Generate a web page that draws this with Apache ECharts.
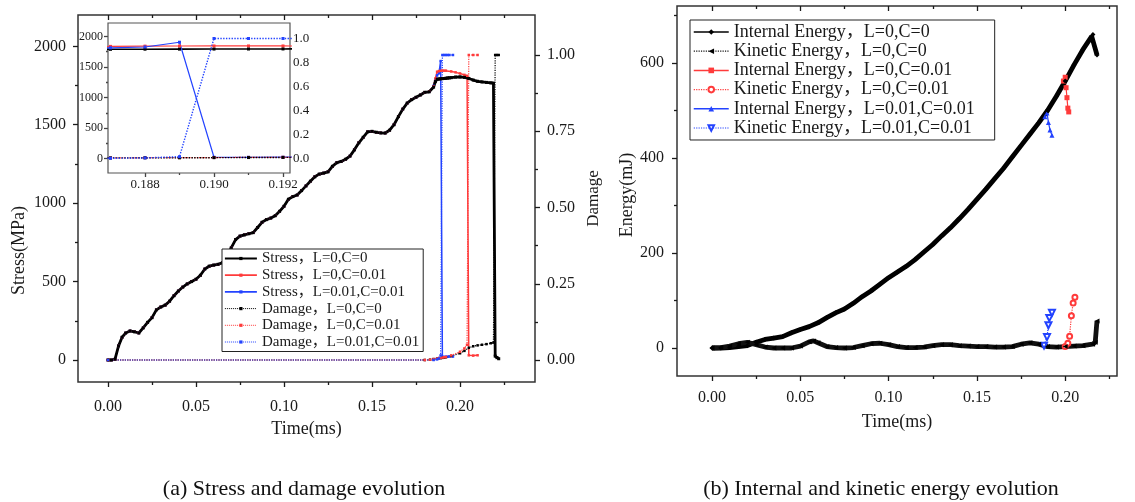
<!DOCTYPE html>
<html>
<head>
<meta charset="utf-8">
<script src="https://cdn.jsdelivr.net/npm/echarts@6/dist/echarts.min.js"></script>
<style>
  html, body { margin: 0; padding: 0; background: #fff; }
  #chart { width: 1135px; height: 502px; }
</style>
</head>
<body>
<div id="chart"></div>
<script>
// ---- (a) stress (MPa) and damage vs time (ms) ----
const stressL0C0 = [
  [0, 0], [0.002, 0], [0.004, 5], [0.006, 90], [0.008, 145], [0.010, 172],
  [0.0125, 185], [0.015, 180], [0.0175, 172], [0.020, 205], [0.0225, 240], [0.025, 270],
  [0.0275, 320], [0.030, 338], [0.0325, 350], [0.035, 375], [0.0375, 410], [0.040, 440],
  [0.0425, 465], [0.045, 485], [0.0475, 500], [0.050, 515], [0.0525, 540], [0.055, 580],
  [0.0575, 598], [0.060, 605], [0.0625, 610], [0.065, 620], [0.0675, 648], [0.070, 715],
  [0.0725, 768], [0.075, 790], [0.0775, 798], [0.080, 805], [0.0825, 812], [0.085, 845],
  [0.0875, 878], [0.090, 895], [0.0925, 905], [0.095, 920], [0.0975, 948], [0.100, 980],
  [0.1025, 1025], [0.105, 1042], [0.1075, 1052], [0.110, 1080], [0.1125, 1110], [0.115, 1140],
  [0.1175, 1168], [0.120, 1185], [0.1225, 1192], [0.125, 1200], [0.1275, 1235], [0.130, 1258],
  [0.1325, 1266], [0.135, 1280], [0.1375, 1300], [0.140, 1340], [0.1425, 1385], [0.145, 1420],
  [0.1475, 1455], [0.150, 1458], [0.1525, 1452], [0.155, 1448], [0.1575, 1447], [0.160, 1465],
  [0.1625, 1500], [0.165, 1552], [0.1675, 1600], [0.170, 1638], [0.1725, 1660], [0.175, 1675],
  [0.1775, 1690], [0.180, 1707], [0.1825, 1710], [0.185, 1740], [0.186, 1775], [0.187, 1790],
  [0.188, 1792], [0.189, 1793], [0.190, 1794], [0.191, 1795], [0.192, 1796], [0.193, 1798],
  [0.194, 1799], [0.195, 1800], [0.1975, 1804], [0.200, 1805], [0.2025, 1802], [0.205, 1795],
  [0.2075, 1785], [0.210, 1777], [0.2125, 1773], [0.215, 1770], [0.2175, 1767], [0.219, 1765],
  [0.220, 25], [0.221, 15], [0.222, 8]
];
// the coupled runs follow L=0,C=0 up to 0.18 ms, then these tails
const stressL0C001Tail = [
  [0.1825, 1712], [0.185, 1745], [0.186, 1795], [0.187, 1838], [0.188, 1842], [0.189, 1844],
  [0.190, 1845], [0.191, 1845], [0.192, 1845], [0.195, 1840], [0.1975, 1834], [0.200, 1827],
  [0.2025, 1818], [0.204, 1812], [0.205, 30], [0.2075, 28], [0.210, 30]
];
const stressL001C001Tail = [
  [0.1825, 1710], [0.185, 1748], [0.186, 1790], [0.187, 1815], [0.188, 1828], [0.189, 1906],
  [0.190, 20], [0.191, 20], [0.192, 21], [0.193, 21], [0.194, 22], [0.196, 22]
];
const damageL0C0 = [
  [0, 0], [0.180, 0], [0.183, 0.001], [0.185, 0.003], [0.187, 0.005], [0.188, 0.006],
  [0.189, 0.006], [0.190, 0.007], [0.191, 0.008], [0.192, 0.009], [0.195, 0.013], [0.200, 0.022],
  [0.2025, 0.030], [0.205, 0.040], [0.2075, 0.045], [0.210, 0.048], [0.2125, 0.050], [0.215, 0.052],
  [0.2175, 0.055], [0.219, 0.057], [0.220, 1], [0.221, 1], [0.222, 1]
];
const damageL0C001 = [
  [0, 0], [0.180, 0], [0.183, 0.001], [0.185, 0.003], [0.187, 0.005], [0.188, 0.006],
  [0.189, 0.007], [0.190, 0.008], [0.191, 0.009], [0.192, 0.010], [0.195, 0.015], [0.200, 0.027],
  [0.2025, 0.038], [0.204, 0.050], [0.205, 1], [0.2075, 1], [0.210, 1]
];
const damageL001C001 = [
  [0, 0], [0.185, 0], [0.187, 0.002], [0.188, 0.005], [0.189, 0.015], [0.190, 1],
  [0.191, 1], [0.192, 1], [0.193, 1], [0.194, 1], [0.196, 1]
];

// ---- (b) energies (mJ) vs time (ms) ----
const internalL0C0 = [
  [0, 0], [0.005, 0], [0.010, 1], [0.015, 3], [0.020, 5], [0.025, 12], [0.030, 18], [0.035, 21],
  [0.040, 24], [0.045, 32], [0.050, 39], [0.055, 45], [0.060, 53], [0.065, 64], [0.070, 74],
  [0.075, 82], [0.080, 94], [0.085, 108], [0.090, 120], [0.095, 134], [0.100, 148], [0.105, 160],
  [0.110, 172], [0.115, 186], [0.120, 202], [0.125, 218], [0.130, 236], [0.135, 253], [0.140, 272],
  [0.145, 292], [0.150, 313], [0.155, 334], [0.160, 356], [0.165, 378], [0.170, 402], [0.175, 426],
  [0.180, 450], [0.185, 474], [0.190, 500], [0.195, 530], [0.200, 562], [0.205, 596], [0.210, 628],
  [0.215, 656], [0.2157, 660], [0.218, 617]
];
const kineticL0C0 = [
  [0, 0], [0.005, 1], [0.010, 4], [0.015, 9], [0.020, 12], [0.025, 7], [0.030, 2], [0.035, 0],
  [0.040, 0], [0.045, 0], [0.050, 4], [0.055, 13], [0.0575, 15], [0.060, 11], [0.065, 3], [0.070, 1],
  [0.075, 0], [0.080, 1], [0.085, 5], [0.090, 9], [0.095, 10], [0.100, 7], [0.105, 3], [0.110, 1],
  [0.115, 1], [0.120, 2], [0.125, 5], [0.130, 7], [0.135, 7], [0.140, 5], [0.145, 4], [0.150, 3],
  [0.155, 3], [0.160, 2], [0.165, 2], [0.170, 3], [0.175, 8], [0.180, 11], [0.185, 8], [0.190, 3],
  [0.195, 2], [0.200, 3], [0.205, 4], [0.210, 5], [0.2155, 8], [0.217, 12], [0.218, 57]
];
const internalL0C001Tail = [
  [0.199, 562], [0.200, 570], [0.2005, 548], [0.201, 527], [0.2015, 505], [0.202, 497]
];
const kineticL0C001Tail = [
  [0.200, 3], [0.2015, 10], [0.2025, 25], [0.2035, 68], [0.2045, 95], [0.2055, 107]
];
const internalL001C001Tail = [
  [0.1885, 487], [0.1897, 495], [0.1905, 475], [0.1914, 459], [0.1925, 448]
];
const kineticL001C001Tail = [
  [0.188, 5], [0.1897, 23], [0.1905, 48], [0.191, 63], [0.1925, 74]
];

// ---- ticks ----
const timeTicks = [0, 0.05, 0.10, 0.15, 0.20];
const timeMinor = [0.025, 0.075, 0.125, 0.175, 0.225];
const stressTicks = [0, 500, 1000, 1500, 2000];
const stressMinor = [250, 750, 1250, 1750];
const damageTicks = [0, 0.25, 0.5, 0.75, 1];
const damageMinor = [0.125, 0.375, 0.625, 0.875];
const insetTimeTicks = [0.188, 0.190, 0.192];
const insetTimeMinor = [0.189, 0.191];
const insetDamageTicks = [0, 0.2, 0.4, 0.6, 0.8, 1];
const insetDamageMinor = [-0.1, 0.1, 0.3, 0.5, 0.7, 0.9, 1.1];
const energyTicks = [0, 200, 400, 600];
const energyMinor = [100, 300, 500, 700];

const legendA = ['Stress，L=0,C=0', 'Stress，L=0,C=0.01', 'Stress，L=0.01,C=0.01',
  'Damage，L=0,C=0', 'Damage，L=0,C=0.01', 'Damage，L=0.01,C=0.01'];
const legendB = ['Internal Energy，L=0,C=0', 'Kinetic Energy，L=0,C=0',
  'Internal Energy，L=0,C=0.01', 'Kinetic Energy，L=0,C=0.01',
  'Internal Energy，L=0.01,C=0.01', 'Kinetic Energy，L=0.01,C=0.01'];

// ---- layout (pixels) ----
const SERIF = '"Liberation Serif", "Noto Sans CJK SC", serif';
const INK = '#1a1a1a';
const RED = '#ff3b3b';
const BLUE = '#2343ff';

const L = { left: 78, right: 535, top: 15, bottom: 382, x0: 108, pxMs: 1760, y0: 360, pxS: 0.15684, pxD: 305 };
const I = { left: 108, right: 290, top: 23, bottom: 173, x0: 145, t0: 0.188, pxMs: 34500, y0: 158.5, pxS: 0.061, pxD: 120 };
const R = { left: 677, right: 1117, top: 6, bottom: 376, x0: 712, pxMs: 1766, y0: 348, pxE: 0.475 };

function upTo(points, t) {
  return points.filter((p) => p[0] <= t);
}

function tailSymbol(from, size) {
  return (v) => (v[0] >= from ? size : 0);
}

// one axis of a frame: only ticks (and labels) at the given values
function tickAxis(base, values, o) {
  const color = o.color || INK;
  return Object.assign({
    type: 'value',
    axisLine: { show: false, onZero: false },
    axisTick: { show: true, inside: !!o.inside, length: o.len || 5, customValues: values,
      lineStyle: { color, width: 1.3 } },
    minorTick: { show: false },
    splitLine: { show: false },
    axisLabel: o.formatter
      ? { show: true, customValues: values, margin: o.margin, fontFamily: SERIF,
          fontSize: o.fontSize || 16, color: INK, formatter: o.formatter }
      : { show: false },
    nameLocation: 'middle',
    nameTextStyle: { fontFamily: SERIF, fontSize: 18, color: INK },
  }, base);
}

function line(name, data, xi, yi, color, o) {
  return Object.assign({
    type: 'line',
    name,
    data,
    xAxisIndex: xi,
    yAxisIndex: yi,
    symbol: 'rect',
    symbolSize: 2.5,
    showSymbol: true,
    lineStyle: { color, width: 1.5, type: 'solid' },
    itemStyle: { color },
    silent: true,
    animation: false,
  }, o);
}

const stressRed = upTo(stressL0C0, 0.18).concat(stressL0C001Tail);
const stressBlue = upTo(stressL0C0, 0.18).concat(stressL001C001Tail);
const internalRed = upTo(internalL0C0, 0.195).concat(internalL0C001Tail);
const kineticRed = upTo(kineticL0C0, 0.195).concat(kineticL0C001Tail);
const internalBlue = upTo(internalL0C0, 0.185).concat(internalL001C001Tail);
const kineticBlue = upTo(kineticL0C0, 0.185).concat(kineticL001C001Tail);

const fmt = (d) => (v) => Number(v).toFixed(d);

const lx = [(L.left - L.x0) / L.pxMs, (L.right - L.x0) / L.pxMs];
const lS = [(L.y0 - L.bottom) / L.pxS, (L.y0 - L.top) / L.pxS];
const lD = [(L.y0 - L.bottom) / L.pxD, (L.y0 - L.top) / L.pxD];
const ix = [I.t0 + (I.left - I.x0) / I.pxMs, I.t0 + (I.right - I.x0) / I.pxMs];
const iS = [(I.y0 - I.bottom) / I.pxS, (I.y0 - I.top) / I.pxS];
const iD = [(I.y0 - I.bottom) / I.pxD, (I.y0 - I.top) / I.pxD];
const rx = [(R.left - R.x0) / R.pxMs, (R.right - R.x0) / R.pxMs];
const rE = [(R.y0 - R.bottom) / R.pxE, (R.y0 - R.top) / R.pxE];

const option = {
  animation: false,
  backgroundColor: '#fff',
  grid: [
    { left: L.left, top: L.top, width: L.right - L.left, height: L.bottom - L.top, outerBoundsMode: 'none',
      show: true, borderColor: '#333', borderWidth: 1.5 },
    { left: I.left, top: I.top, width: I.right - I.left, height: I.bottom - I.top, outerBoundsMode: 'none',
      show: true, backgroundColor: '#fff', borderColor: '#555', borderWidth: 1.2, z: 5 },
    { left: R.left, top: R.top, width: R.right - R.left, height: R.bottom - R.top, outerBoundsMode: 'none',
      show: true, borderColor: '#333', borderWidth: 1.5 },
  ],
  xAxis: [
    tickAxis({ gridIndex: 0, position: 'bottom', min: lx[0], max: lx[1], name: 'Time(ms)', nameGap: 37 },
      timeTicks, { margin: 17, formatter: fmt(2) }),
    tickAxis({ gridIndex: 0, position: 'bottom', min: lx[0], max: lx[1] }, timeMinor, { len: 3 }),
    tickAxis({ gridIndex: 0, position: 'top', min: lx[0], max: lx[1] }, timeTicks, { inside: true }),
    tickAxis({ gridIndex: 0, position: 'top', min: lx[0], max: lx[1] }, timeMinor, { inside: true, len: 3 }),
    tickAxis({ gridIndex: 1, position: 'bottom', min: ix[0], max: ix[1] },
      insetTimeTicks, { len: 4, margin: 5, fontSize: 13, formatter: fmt(3), color: '#444' }),
    tickAxis({ gridIndex: 1, position: 'bottom', min: ix[0], max: ix[1] }, insetTimeMinor, { len: 2, color: '#444' }),
    tickAxis({ gridIndex: 2, position: 'bottom', min: rx[0], max: rx[1], name: 'Time(ms)', nameGap: 37 },
      timeTicks, { margin: 14, formatter: fmt(2) }),
    tickAxis({ gridIndex: 2, position: 'bottom', min: rx[0], max: rx[1] }, timeMinor, { len: 3 }),
    tickAxis({ gridIndex: 2, position: 'top', min: rx[0], max: rx[1] }, timeTicks, { inside: true }),
    tickAxis({ gridIndex: 2, position: 'top', min: rx[0], max: rx[1] }, timeMinor, { inside: true, len: 3 }),
  ],
  yAxis: [
    tickAxis({ gridIndex: 0, position: 'left', min: lS[0], max: lS[1], name: 'Stress(MPa)', nameGap: 50,
      // the title sits lower than the middle of the frame
      nameTextStyle: { fontFamily: SERIF, fontSize: 18, color: INK, padding: [0, 104, 0, 0] } },
      stressTicks, { margin: 12, formatter: fmt(0) }),
    tickAxis({ gridIndex: 0, position: 'left', min: lS[0], max: lS[1] }, stressMinor, { len: 3 }),
    tickAxis({ gridIndex: 0, position: 'right', min: lD[0], max: lD[1], name: 'Damage', nameGap: 50,
      nameTextStyle: { fontFamily: SERIF, fontSize: 17, color: INK } },
      damageTicks, { margin: 12, formatter: fmt(2) }),
    tickAxis({ gridIndex: 0, position: 'right', min: lD[0], max: lD[1] }, damageMinor, { len: 3 }),
    tickAxis({ gridIndex: 1, position: 'left', min: iS[0], max: iS[1] },
      stressTicks, { len: 4, margin: 5, fontSize: 12, formatter: fmt(0), color: '#444' }),
    tickAxis({ gridIndex: 1, position: 'left', min: iS[0], max: iS[1] }, stressMinor, { len: 2, color: '#444' }),
    tickAxis({ gridIndex: 1, position: 'right', min: iD[0], max: iD[1] },
      insetDamageTicks, { len: 4, inside: true, margin: 3, fontSize: 13, formatter: fmt(1), color: '#444' }),
    tickAxis({ gridIndex: 1, position: 'right', min: iD[0], max: iD[1] }, insetDamageMinor,
      { len: 2, inside: true, color: '#444' }),
    tickAxis({ gridIndex: 2, position: 'left', min: rE[0], max: rE[1], name: 'Energy(mJ)', nameGap: 40,
      nameTextStyle: { fontFamily: SERIF, fontSize: 18, color: INK, padding: [0, 8, 0, 0] } },
      energyTicks, { margin: 13, formatter: fmt(0) }),
    tickAxis({ gridIndex: 2, position: 'left', min: rE[0], max: rE[1] }, energyMinor, { len: 3 }),
  ],
  legend: [
    {
      orient: 'vertical', left: 222, top: 249, padding: [2, 4, 2, 2],
      itemWidth: 32, itemHeight: 4, itemGap: 1.7,
      borderColor: '#222', borderWidth: 1, backgroundColor: '#fff',
      selectedMode: false,
      textStyle: { fontFamily: SERIF, fontSize: 15, color: INK },
      data: [
        { name: legendA[0], lineStyle: { width: 1.8 } },
        { name: legendA[1], lineStyle: { width: 1.8 } },
        { name: legendA[2], lineStyle: { width: 1.8 } },
        { name: legendA[3], lineStyle: { width: 1 } },
        { name: legendA[4], lineStyle: { width: 1 } },
        { name: legendA[5], lineStyle: { width: 1 } },
      ],
    },
    {
      orient: 'vertical', left: 690, top: 20, padding: [3, 20, 3, 3],
      itemWidth: 35, itemHeight: 7, itemGap: 1.2,
      borderColor: '#222', borderWidth: 1, backgroundColor: '#fff',
      selectedMode: false,
      textStyle: { fontFamily: SERIF, fontSize: 18, color: INK },
      data: [
        { name: legendB[0], lineStyle: { width: 1.5 } },
        { name: legendB[1], lineStyle: { width: 1.2, type: 'dotted' } },
        { name: legendB[2], lineStyle: { width: 1.5 } },
        { name: legendB[3], lineStyle: { width: 1.2 } },
        { name: legendB[4], lineStyle: { width: 1.5 } },
        { name: legendB[5], lineStyle: { width: 1.2 } },
      ],
    },
  ],
  series: [
    // (a) main plot
    line(legendA[2], stressBlue, 0, 0, BLUE, {}),
    line(legendA[1], stressRed, 0, 0, RED, {}),
    line(legendA[0], stressL0C0, 0, 0, '#000', { lineStyle: { color: '#000', width: 2.8 }, symbolSize: 3 }),
    line(legendA[3], damageL0C0, 0, 2, '#000', { lineStyle: { color: '#000', width: 1.2, type: 'dotted' } }),
    line(legendA[4], damageL0C001, 0, 2, RED, { lineStyle: { color: RED, width: 1.2, type: 'dotted' } }),
    line(legendA[5], damageL001C001, 0, 2, BLUE, { lineStyle: { color: BLUE, width: 1.2, type: 'dotted' } }),
    // (a) inset
    line(legendA[1], stressRed, 4, 4, RED, { z: 6, symbolSize: 3, lineStyle: { color: RED, width: 1.2 } }),
    line(legendA[0], stressL0C0, 4, 4, '#000', { z: 6, symbolSize: 3, lineStyle: { color: '#000', width: 1.6 } }),
    line(legendA[2], stressBlue, 4, 4, BLUE, { z: 6, symbolSize: 3, lineStyle: { color: BLUE, width: 1.2 } }),
    line(legendA[4], damageL0C001, 4, 6, RED, { z: 6, symbolSize: 3, lineStyle: { color: RED, width: 1.2, type: 'dotted' } }),
    line(legendA[3], damageL0C0, 4, 6, '#000', { z: 6, symbolSize: 3, lineStyle: { color: '#000', width: 1.4, type: 'dotted' } }),
    line(legendA[5], damageL001C001, 4, 6, BLUE, { z: 6, symbolSize: 3, lineStyle: { color: BLUE, width: 1.4, type: 'dotted' } }),
    // (b)
    line(legendB[2], internalRed, 6, 8, RED, { symbol: 'rect', symbolSize: tailSymbol(0.199, 5),
      lineStyle: { color: RED, width: 1.2 } }),
    line(legendB[3], kineticRed, 6, 8, RED, { symbol: 'emptyCircle', symbolSize: tailSymbol(0.2, 5),
      lineStyle: { color: RED, width: 1.2, type: 'dotted' } }),
    line(legendB[4], internalBlue, 6, 8, BLUE, { symbol: 'triangle', symbolSize: tailSymbol(0.1885, 5),
      lineStyle: { color: BLUE, width: 1.2 } }),
    line(legendB[5], kineticBlue, 6, 8, BLUE, { symbol: 'emptyTriangle', symbolRotate: 180,
      symbolSize: tailSymbol(0.188, 6), lineStyle: { color: BLUE, width: 1.2, type: 'dotted' } }),
    line(legendB[0], internalL0C0, 6, 8, '#000', { symbol: 'diamond', symbolSize: 5,
      lineStyle: { color: '#000', width: 4.8 } }),
    line(legendB[1], kineticL0C0, 6, 8, '#000', { symbol: 'triangle', symbolRotate: 90, symbolSize: 5,
      lineStyle: { color: '#111', width: 4.8 } }),
  ],
  graphic: [
    { type: 'text', x: 304, y: 489, style: { text: '(a) Stress and damage evolution',
      font: '22px "Liberation Serif"', fill: '#111', align: 'center', verticalAlign: 'middle' } },
    { type: 'text', x: 881, y: 489, style: { text: '(b) Internal and kinetic energy evolution',
      font: '22px "Liberation Serif"', fill: '#111', align: 'center', verticalAlign: 'middle' } },
  ],
};

const chart = echarts.init(document.getElementById('chart'), null, { renderer: 'canvas' });
chart.setOption(option);
</script>
</body>
</html>
